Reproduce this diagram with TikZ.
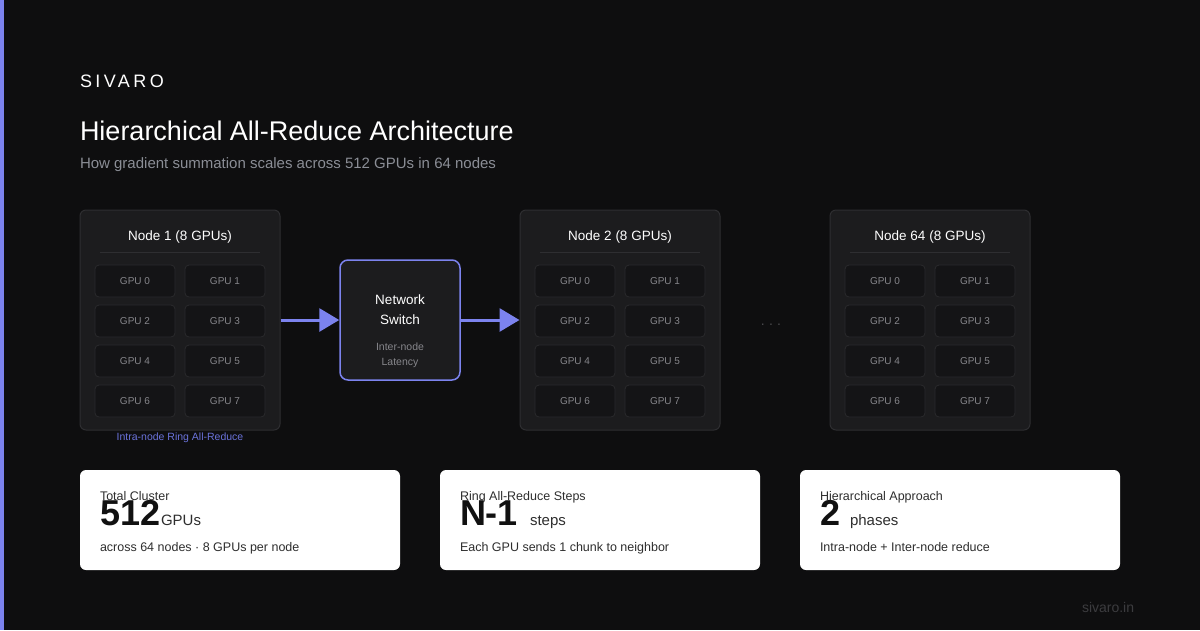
\documentclass[tikz,border=0pt]{standalone}
\usepackage{fontspec}
\setmainfont{Liberation Sans}
\usepackage{xcolor}
\usepackage{tikz}
\usetikzlibrary{arrows.meta}

\definecolor{bgdark}{HTML}{0E0E0F}
\definecolor{accent}{HTML}{7C83EE}
\definecolor{ringlabel}{HTML}{6A72DA}
\definecolor{panel}{HTML}{1C1C1E}
\definecolor{panelline}{HTML}{2E2E31}
\definecolor{gpufill}{HTML}{141416}
\definecolor{gpuline}{HTML}{2A2A2D}
\definecolor{gputext}{HTML}{86868B}
\definecolor{subtext}{HTML}{8B8E96}
\definecolor{dotgray}{HTML}{4A4A4D}
\definecolor{foot}{HTML}{3C3C3F}
\definecolor{cardtext}{HTML}{2E2E2E}
\definecolor{cardnum}{HTML}{111111}

\begin{document}
\begin{tikzpicture}[x=1pt,y=-1pt]
        \tikzset{txt/.style={inner sep=0pt, outer sep=0pt},
                 nodebox/.style={rectangle, rounded corners=6pt, draw=panelline, fill=panel, line width=1pt, minimum width=200pt, minimum height=220pt, inner sep=0pt},
                 gpubox/.style={rectangle, rounded corners=4pt, draw=gpuline, fill=gpufill, line width=0.8pt, minimum width=80pt, minimum height=32pt, inner sep=0pt, text=gputext, font=\fontsize{10}{12}\selectfont},
                 nodetitle/.style={txt, text=white, font=\fontsize{13.5}{16}\selectfont},
                 switchbox/.style={rectangle, rounded corners=8pt, draw=accent, fill=panel, line width=1.5pt, minimum width=120pt, minimum height=120pt, inner sep=0pt},
                 card/.style={rectangle, rounded corners=6pt, fill=white, minimum width=320pt, minimum height=100pt, inner sep=0pt},
                 cardlabel/.style={txt, anchor=base west, text=cardtext, font=\fontsize{12.5}{14}\selectfont},
                 cardnumber/.style={txt, anchor=base west, text=cardnum, font=\fontsize{36}{40}\selectfont\bfseries},
                 cardunit/.style={txt, anchor=base west, text=cardtext, font=\fontsize{15}{18}\selectfont},
                 flow/.style={draw=accent, line width=3pt, -{Triangle[length=20pt,width=23pt]}}}

	%---BACKGROUND---
	\fill[bgdark] (0,0) rectangle (1200,630);
	\fill[accent] (0,0) rectangle (4,630);

	%---NODES---
        \node[nodebox] (n1) at (180,320) {};
        \node[nodetitle] (n1t) at (180,237) {Node 1 (8 GPUs)};
        \draw[panelline, line width=1pt] (100,252) -- (260,252);
        \node[gpubox] (n1g0) at (135,281) {GPU 0};
        \node[gpubox] (n1g1) at (225,281) {GPU 1};
        \node[gpubox] (n1g2) at (135,321) {GPU 2};
        \node[gpubox] (n1g3) at (225,321) {GPU 3};
        \node[gpubox] (n1g4) at (135,361) {GPU 4};
        \node[gpubox] (n1g5) at (225,361) {GPU 5};
        \node[gpubox] (n1g6) at (135,401) {GPU 6};
        \node[gpubox] (n1g7) at (225,401) {GPU 7};

        \node[switchbox] (sw) at (400,320) {};
        \node[txt, align=center, text=white, font=\fontsize{13.5}{20}\selectfont] (swt) at (400,310) {Network\\Switch};
        \node[txt, align=center, text=gputext, font=\fontsize{10.5}{15}\selectfont] (swl) at (400,355) {Inter-node\\Latency};

        \node[nodebox] (n2) at (620,320) {};
        \node[nodetitle] (n2t) at (620,237) {Node 2 (8 GPUs)};
        \draw[panelline, line width=1pt] (540,252) -- (700,252);
        \node[gpubox] (n2g0) at (575,281) {GPU 0};
        \node[gpubox] (n2g1) at (665,281) {GPU 1};
        \node[gpubox] (n2g2) at (575,321) {GPU 2};
        \node[gpubox] (n2g3) at (665,321) {GPU 3};
        \node[gpubox] (n2g4) at (575,361) {GPU 4};
        \node[gpubox] (n2g5) at (665,361) {GPU 5};
        \node[gpubox] (n2g6) at (575,401) {GPU 6};
        \node[gpubox] (n2g7) at (665,401) {GPU 7};

        \node[txt, anchor=base, text=dotgray, font=\fontsize{14}{16}\selectfont\addfontfeature{LetterSpace=30}] (dots) at (771,325) {...};

        \node[nodebox] (n64) at (930,320) {};
        \node[nodetitle] (n64t) at (930,237) {Node 64 (8 GPUs)};
        \draw[panelline, line width=1pt] (850,252) -- (1010,252);
        \node[gpubox] (n64g0) at (885,281) {GPU 0};
        \node[gpubox] (n64g1) at (975,281) {GPU 1};
        \node[gpubox] (n64g2) at (885,321) {GPU 2};
        \node[gpubox] (n64g3) at (975,321) {GPU 3};
        \node[gpubox] (n64g4) at (885,361) {GPU 4};
        \node[gpubox] (n64g5) at (975,361) {GPU 5};
        \node[gpubox] (n64g6) at (885,401) {GPU 6};
        \node[gpubox] (n64g7) at (975,401) {GPU 7};

        \node[card] (c1) at (240,520) {};
        \node[card] (c2) at (600,520) {};
        \node[card] (c3) at (960,520) {};

	%---EDGES---
        \draw[flow] (n1) -- (sw);
        \draw[flow] (sw) -- (n2);

	%---LABELS---
        \node[txt, anchor=base west, text=white, font=\fontsize{18}{20}\selectfont\addfontfeature{LetterSpace=19}] (brand) at (80,87.5) {SIVARO};
        \node[txt, anchor=base west, text=white, font=\fontsize{27}{30}\selectfont] (title) at (80,140) {Hierarchical All-Reduce Architecture};
        \node[txt, anchor=base west, text=subtext, font=\fontsize{15}{18}\selectfont] (subtitle) at (80,168) {How gradient summation scales across 512 GPUs in 64 nodes};

        \node[txt, anchor=base, text=ringlabel, font=\fontsize{10.5}{12}\selectfont] (ring) at (180,440) {Intra-node Ring All-Reduce};

        \node[cardlabel] (c1l) at (100,500) {Total Cluster};
        \node[cardnumber] (c1n) at (100,525.5) {512};
        \node[cardunit] (c1u) at (161,525.5) {GPUs};
        \node[cardlabel] (c1s) at (100,551.5) {across 64 nodes · 8 GPUs per node};

        \node[cardlabel] (c2l) at (460,500) {Ring All-Reduce Steps};
        \node[cardnumber] (c2n) at (460,525.5) {N-1};
        \node[cardunit] (c2u) at (530,525.5) {steps};
        \node[cardlabel] (c2s) at (460,551.5) {Each GPU sends 1 chunk to neighbor};

        \node[cardlabel] (c3l) at (820,500) {Hierarchical Approach};
        \node[cardnumber] (c3n) at (820,525.5) {2};
        \node[cardunit] (c3u) at (850,525.5) {phases};
        \node[cardlabel] (c3s) at (820,551.5) {Intra-node + Inter-node reduce};

        \node[txt, anchor=base west, text=foot, font=\fontsize{14}{16}\selectfont] (site) at (1082,612.5) {sivaro.in};

    \end{tikzpicture}
\end{document}
